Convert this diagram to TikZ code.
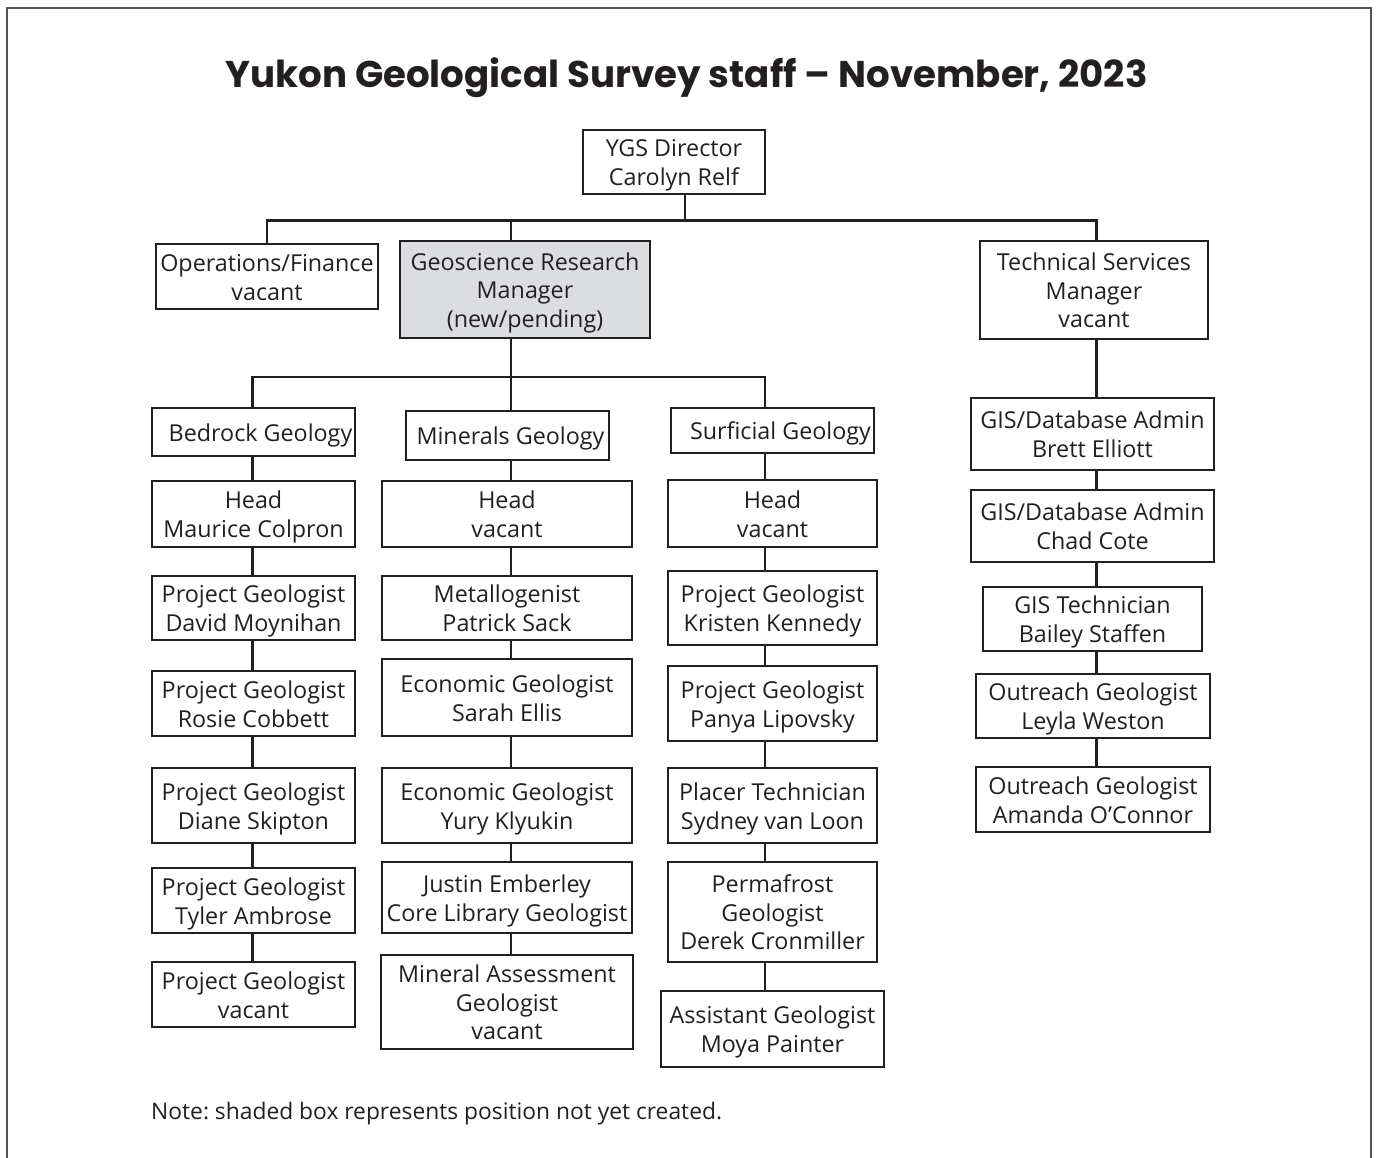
\documentclass[tikz,border=0pt]{standalone}
\usepackage{fontspec}
\setmainfont{Open Sans}
\newfontfamily\titlefont{Poppins}
\definecolor{ink}{HTML}{231F20}
\definecolor{frame}{HTML}{555555}
\definecolor{shade}{HTML}{DCDDE0}
\newcommand\bodysize{\fontsize{23.3}{28.7}\selectfont}
\newcommand\tx[1]{\raisebox{-3.5pt}[\height][\depth]{\begin{tabular}{@{}c@{}}#1\end{tabular}}}
\frenchspacing
\begin{document}
\begin{tikzpicture}[x=1pt,y=-1pt,
  box/.style={draw=ink, line width=2.4pt, fill=white, inner sep=0pt, text=ink, font=\bodysize},
  conn/.style={draw=ink, line width=2.4pt},
]
\useasboundingbox (0,0) rectangle (1379,1158);
\fill[white] (0,0) rectangle (1379,1158);
\draw[line width=1.3pt, draw=frame] (7,1158) -- (7,8) -- (1371,8) -- (1371,1158);

\node[font=\titlefont\bfseries\fontsize{37.2}{40}\selectfont, text=ink] (title) at (686.5,78) {Yukon Geological Survey staff – November, 2023};

% top level
\node[box, minimum width=182pt, minimum height=64pt] (dir) at (674,162) {\tx{YGS Director\\Carolyn Relf}};
\node[box, minimum width=222pt, minimum height=65pt] (ops) at (267,276.5) {\tx{Operations/Finance\\vacant}};
\node[box, fill=shade, minimum width=250pt, minimum height=97pt] (grm) at (525,289.5) {\tx{Geoscience Research\\Manager\\(new/pending)}};
\node[box, minimum width=228pt, minimum height=98pt] (tech) at (1094,290) {\tx{Technical Services\\Manager\\vacant}};

% section heads
\node[box, minimum width=203pt, minimum height=48pt] (bed) at (253.5,432) {\tx{\hspace*{14pt}Bedrock Geology}};
\node[box, minimum width=203pt, minimum height=49pt] (min) at (507.5,435.5) {\tx{\hspace*{6pt}Minerals Geology}};
\node[box, minimum width=203pt, minimum height=45pt] (sur) at (772.5,430.5) {\tx{\hspace*{16pt}Surficial Geology}};

% bedrock column
\node[box, minimum width=203pt, minimum height=66pt] (bh) at (253.5,514) {\tx{Head\\Maurice Colpron}};
\node[box, minimum width=203pt, minimum height=64pt] (b1) at (253.5,608) {\tx{Project Geologist\\David Moynihan}};
\node[box, minimum width=203pt, minimum height=65pt] (b2) at (253.5,703.5) {\tx{Project Geologist\\Rosie Cobbett}};
\node[box, minimum width=203pt, minimum height=75pt] (b3) at (253.5,805.5) {\tx{Project Geologist\\Diane Skipton}};
\node[box, minimum width=203pt, minimum height=65pt] (b4) at (253.5,900.5) {\tx{Project Geologist\\Tyler Ambrose}};
\node[box, minimum width=203pt, minimum height=65pt] (b5) at (253.5,994.5) {\tx{Project Geologist\\vacant}};

% minerals column
\node[box, minimum width=250pt, minimum height=66pt] (mh) at (507,514) {\tx{Head\\vacant}};
\node[box, minimum width=250pt, minimum height=64pt] (m1) at (507,608) {\tx{Metallogenist\\Patrick Sack}};
\node[box, minimum width=250pt, minimum height=77pt] (m2) at (507,697.5) {\tx{Economic Geologist\\Sarah Ellis}};
\node[box, minimum width=250pt, minimum height=75pt] (m3) at (507,805.5) {\tx{Economic Geologist\\Yury Klyukin}};
\node[box, minimum width=250pt, minimum height=71pt] (m4) at (507,897.5) {\tx{Justin Emberley\\Core Library Geologist}};
\node[box, minimum width=252.5pt, minimum height=94pt] (m5) at (507,1002) {\tx{Mineral Assessment\\Geologist\\vacant}};

% surficial column
\node[box, minimum width=209pt, minimum height=67pt] (sh) at (772.5,513.5) {\tx{Head\\vacant}};
\node[box, minimum width=209pt, minimum height=74pt] (s1) at (772.5,608) {\tx{Project Geologist\\Kristen Kennedy}};
\node[box, minimum width=209pt, minimum height=75pt] (s2) at (772.5,703.5) {\tx{Project Geologist\\Panya Lipovsky}};
\node[box, minimum width=209pt, minimum height=75pt] (s3) at (772.5,805.5) {\tx{Placer Technician\\Sydney van Loon}};
\node[box, minimum width=209pt, minimum height=100pt] (s4) at (772.5,912) {\tx{Permafrost\\Geologist\\Derek Cronmiller}};
\node[box, minimum width=223pt, minimum height=76pt] (s5) at (772.5,1029) {\tx{Assistant Geologist\\Moya Painter}};

% technical services column
\node[box, minimum width=243pt, minimum height=72pt] (t1) at (1092.5,434) {\tx{GIS/Database Admin\\Brett Elliott}};
\node[box, minimum width=243pt, minimum height=72pt] (t2) at (1092.5,526) {\tx{GIS/Database Admin\\Chad Cote}};
\node[box, minimum width=219pt, minimum height=64pt] (t3) at (1092.5,619) {\tx{GIS Technician\\Bailey Staffen}};
\node[box, minimum width=234pt, minimum height=64pt] (t4) at (1093,706) {\tx{Outreach Geologist\\Leyla Weston}};
\node[box, minimum width=234pt, minimum height=65pt] (t5) at (1093,799.5) {\tx{Outreach Geologist\\Amanda O’Connor}};

% column coordinates
\coordinate (bus) at (685,220.5);
\coordinate (sbus) at (511,377);
\coordinate (grmx) at (511,0);
\coordinate (techx) at (1096.5,0);
\coordinate (bcol) at (252.5,0);
\coordinate (mcol) at (511,0);
\coordinate (scol) at (765,0);

% connectors
\draw[conn] (dir.south -| bus) -- (bus);
\draw[conn] (ops.north) -- (ops.north |- bus) -- (techx |- bus) -- (tech.north -| techx);
\draw[conn] (grmx |- bus) -- (grm.north -| grmx);
\draw[conn] (grm.south -| grmx) -- (grmx |- sbus);
\draw[conn] (bed.north -| bcol) -- (bcol |- sbus) -- (scol |- sbus) -- (sur.north -| scol);
\draw[conn] (mcol |- sbus) -- (min.north -| mcol);
\foreach \a/\b in {bed/bh,bh/b1,b1/b2,b2/b3,b3/b4,b4/b5}
  \draw[conn] (\a.south -| bcol) -- (\b.north -| bcol);
\foreach \a/\b in {min/mh,mh/m1,m1/m2,m2/m3,m3/m4,m4/m5}
  \draw[conn] (\a.south -| mcol) -- (\b.north -| mcol);
\foreach \a/\b in {sur/sh,sh/s1,s1/s2,s2/s3,s3/s4,s4/s5}
  \draw[conn] (\a.south -| scol) -- (\b.north -| scol);
\foreach \a/\b in {tech/t1,t1/t2,t2/t3,t3/t4,t4/t5}
  \draw[conn] (\a.south -| techx) -- (\b.north -| techx);

\node[anchor=west, font=\fontsize{22.8}{28}\selectfont, text=ink, inner sep=0pt] (note) at (151,1114) {Note: shaded box represents position not yet created.};
\end{tikzpicture}
\end{document}
